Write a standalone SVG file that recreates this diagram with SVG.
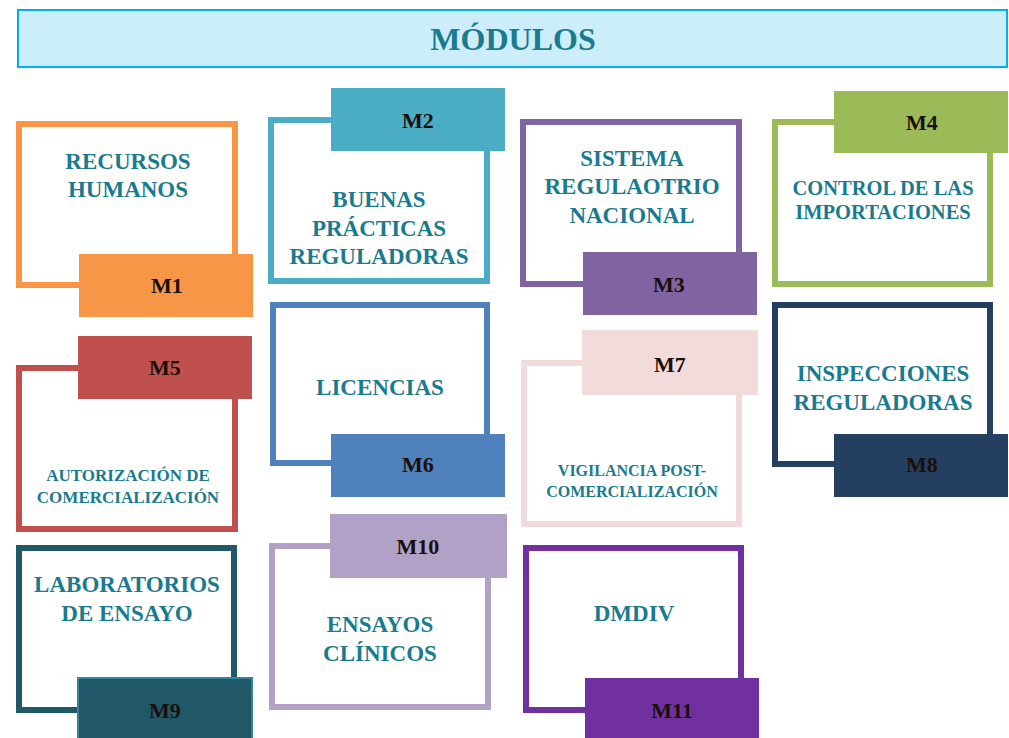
<svg xmlns="http://www.w3.org/2000/svg" width="1009" height="738" viewBox="0 0 1009 738">
<style>
.frame{fill:#fff;stroke-width:6}
.lbl{font-family:"Liberation Serif",serif;font-weight:bold;fill:#1A7A8E;text-anchor:middle}
.tag{font-family:"Liberation Serif",serif;font-weight:bold;fill:#1A0F0A;text-anchor:middle;font-size:22px}
</style>
<rect width="1009" height="738" fill="#fff"/>
<g id="title">
<rect x="18" y="10" width="989" height="57" fill="#CCEEFA" stroke="#00B0F0" stroke-width="2"/>
<text x="513" y="50" class="lbl" style="font-size:32px">MÓDULOS</text>
</g>
<g id="connectors"></g>
<g id="m1">
<rect class="frame" x="19" y="124" width="216" height="161" stroke="#F79646"/>
<rect x="79" y="254" width="174" height="63" fill="#F79646"/>
<text class="tag" x="167" y="293">M1</text>
<text class="lbl" style="font-size:23px" x="128" y="169">RECURSOS</text>
<text class="lbl" style="font-size:23px" x="128" y="197">HUMANOS</text>
</g>
<g id="m2">
<rect class="frame" x="271" y="120" width="216" height="161" stroke="#4BACC6"/>
<rect x="331" y="88" width="174" height="63" fill="#4BACC6"/>
<text class="tag" x="418" y="128">M2</text>
<text class="lbl" style="font-size:23px" x="379" y="207">BUENAS</text>
<text class="lbl" style="font-size:23px" x="379" y="236">PRÁCTICAS</text>
<text class="lbl" style="font-size:23px" x="379" y="264">REGULADORAS</text>
</g>
<g id="m3">
<rect class="frame" x="523" y="122" width="216" height="162" stroke="#8064A2"/>
<rect x="583" y="252" width="174" height="63" fill="#8064A2"/>
<text class="tag" x="669" y="292">M3</text>
<text class="lbl" style="font-size:23px" x="632" y="166">SISTEMA</text>
<text class="lbl" style="font-size:23px" x="632" y="194">REGULAOTRIO</text>
<text class="lbl" style="font-size:23px" x="632" y="223">NACIONAL</text>
</g>
<g id="m4">
<rect class="frame" x="775" y="122" width="215" height="162" stroke="#9BBB59"/>
<rect x="834" y="91" width="174" height="62" fill="#9BBB59"/>
<text class="tag" x="922" y="130">M4</text>
<text class="lbl" style="font-size:20.5px" x="883" y="195">CONTROL DE LAS</text>
<text class="lbl" style="font-size:20.5px" x="883" y="219">IMPORTACIONES</text>
</g>
<g id="m5">
<rect class="frame" x="19" y="368" width="216" height="161" stroke="#C0504D"/>
<rect x="78" y="336" width="174" height="63" fill="#C0504D"/>
<text class="tag" x="165" y="375">M5</text>
<text class="lbl" style="font-size:17px" x="128" y="481">AUTORIZACIÓN DE</text>
<text class="lbl" style="font-size:17px" x="128" y="503">COMERCIALIZACIÓN</text>
</g>
<g id="m6">
<rect class="frame" x="273" y="305" width="214" height="158" stroke="#4F81BD"/>
<rect x="331" y="434" width="174" height="63" fill="#4F81BD"/>
<text class="tag" x="418" y="472">M6</text>
<text class="lbl" style="font-size:23px" x="380" y="395">LICENCIAS</text>
</g>
<g id="m7">
<rect class="frame" x="524" y="363" width="215" height="161" stroke="#F2DCDB"/>
<rect x="582" y="330" width="176" height="65" fill="#F2DCDB"/>
<text class="tag" x="670" y="372">M7</text>
<text class="lbl" style="font-size:16px" x="632" y="476">VIGILANCIA POST-</text>
<text class="lbl" style="font-size:16px" x="632" y="497">COMERCIALIZACIÓN</text>
</g>
<g id="m8">
<rect class="frame" x="775" y="305" width="215" height="159" stroke="#243F60"/>
<rect x="834" y="434" width="174" height="63" fill="#243F60"/>
<text class="tag" x="922" y="472">M8</text>
<text class="lbl" style="font-size:23px" x="883" y="381">INSPECCIONES</text>
<text class="lbl" style="font-size:23px" x="883" y="410">REGULADORAS</text>
</g>
<g id="m9">
<rect class="frame" x="19" y="548" width="215" height="162" stroke="#215868"/>
<rect x="78" y="678" width="174" height="62" fill="#215868" stroke="#31849B" stroke-width="2"/>
<text class="tag" x="165" y="718">M9</text>
<text class="lbl" style="font-size:23px" x="127" y="592">LABORATORIOS</text>
<text class="lbl" style="font-size:23px" x="127" y="621">DE ENSAYO</text>
</g>
<g id="m10">
<rect class="frame" x="272" y="546" width="216" height="161" stroke="#B2A1C7"/>
<rect x="330" y="514" width="177" height="64" fill="#B2A1C7"/>
<text class="tag" x="418" y="554">M10</text>
<text class="lbl" style="font-size:23px" x="380" y="632">ENSAYOS</text>
<text class="lbl" style="font-size:23px" x="380" y="661">CLÍNICOS</text>
</g>
<g id="m11">
<rect class="frame" x="526" y="548" width="215" height="162" stroke="#7030A0"/>
<rect x="585" y="678" width="174" height="60" fill="#7030A0"/>
<text class="tag" x="672" y="718">M11</text>
<text class="lbl" style="font-size:23px" x="634" y="621">DMDIV</text>
</g>
</svg>
